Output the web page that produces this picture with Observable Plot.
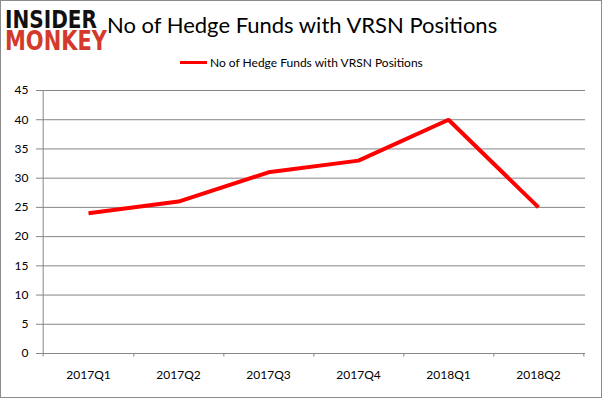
<!DOCTYPE html>
<html><head><meta charset="utf-8">
<script src="https://cdn.jsdelivr.net/npm/d3@7"></script>
<script src="https://cdn.jsdelivr.net/npm/@observablehq/plot@0.6"></script>
<style>
html,body{margin:0;padding:0;background:#fff;}
#wrap{position:relative;width:602px;height:398px;overflow:hidden;}
#frame{position:absolute;left:0;top:0;width:600px;height:396px;border:1px solid #8c8c8c;pointer-events:none;}
#title{position:absolute;left:107px;top:11px;font-family:Lato,sans-serif;font-size:22px;color:#000;white-space:nowrap;}
#legend{position:absolute;top:55px;left:180px;font-family:Lato,sans-serif;font-size:12px;color:#000;white-space:nowrap;display:flex;align-items:center;}
#legend span.sw{display:inline-block;width:27px;height:3px;background:#ff0000;margin-right:3px;}
#logo{position:absolute;left:4px;top:1px;overflow:visible;}
#chart{position:absolute;left:0;top:0;}
</style></head>
<body>
<div id="wrap">
  <div id="chart"></div>
  <svg id="logo" width="106" height="60">
    <text x="1" y="27" font-family="DejaVu Sans" font-weight="bold" font-size="24" textLength="92" lengthAdjust="spacingAndGlyphs" fill="#111">INSIDER</text>
    <text x="1" y="49" font-family="DejaVu Sans" font-weight="bold" font-size="26" textLength="102" lengthAdjust="spacingAndGlyphs" fill="#d33a2c">MONKEY</text>
  </svg>
  <div id="title">No of Hedge Funds with VRSN Positions</div>
  <div id="legend"><span class="sw"></span>No of Hedge Funds with VRSN Positions</div>
  <div id="frame"></div>
</div>
<script>
const quarters = ["2017Q1","2017Q2","2017Q3","2017Q4","2018Q1","2018Q2"];
const funds = [24, 26, 31, 33, 40, 25];
const yTicks = [0,5,10,15,20,25,30,35,40,45];

const data = quarters.map((q,i)=>({q, v: funds[i]}));
const W = 602, H = 398, mL = 41, mR = 17, mT = 90, mB = 45;
const bw = (W - mL - mR) / quarters.length;
const grid = "#868686";

const chart = Plot.plot({
  width: W, height: H,
  marginLeft: mL, marginRight: mR, marginTop: mT, marginBottom: mB,
  style: {fontFamily: "Lato, sans-serif", fontSize: "12px", color: "#000", background: "transparent"},
  x: {type: "band", domain: quarters, padding: 0, label: null},
  y: {domain: [0, 45], label: null},
  marks: [
    Plot.ruleY(yTicks, {stroke: grid, strokeOpacity: 1}),
    Plot.ruleX([0], {x: () => quarters[0], dx: -bw/2, y1: -0.6, y2: 45, stroke: grid}),
    Plot.ruleX(quarters, {x: d => d, dx: bw/2, y1: -0.6, y2: 0, stroke: grid}),
    Plot.axisY(yTicks, {tickSize: 5, tickPadding: 8, stroke: grid, fontSize: 12, label: null}),
    Plot.axisX({tickSize: 0, tickPadding: 17, fontSize: 12, label: null}),
    Plot.line(data, {x: "q", y: "v", stroke: "#ff0000", strokeWidth: 4, strokeLinejoin: "miter", strokeLinecap: "butt"})
  ]
});
document.getElementById("chart").appendChild(chart);
</script>
</body></html>
